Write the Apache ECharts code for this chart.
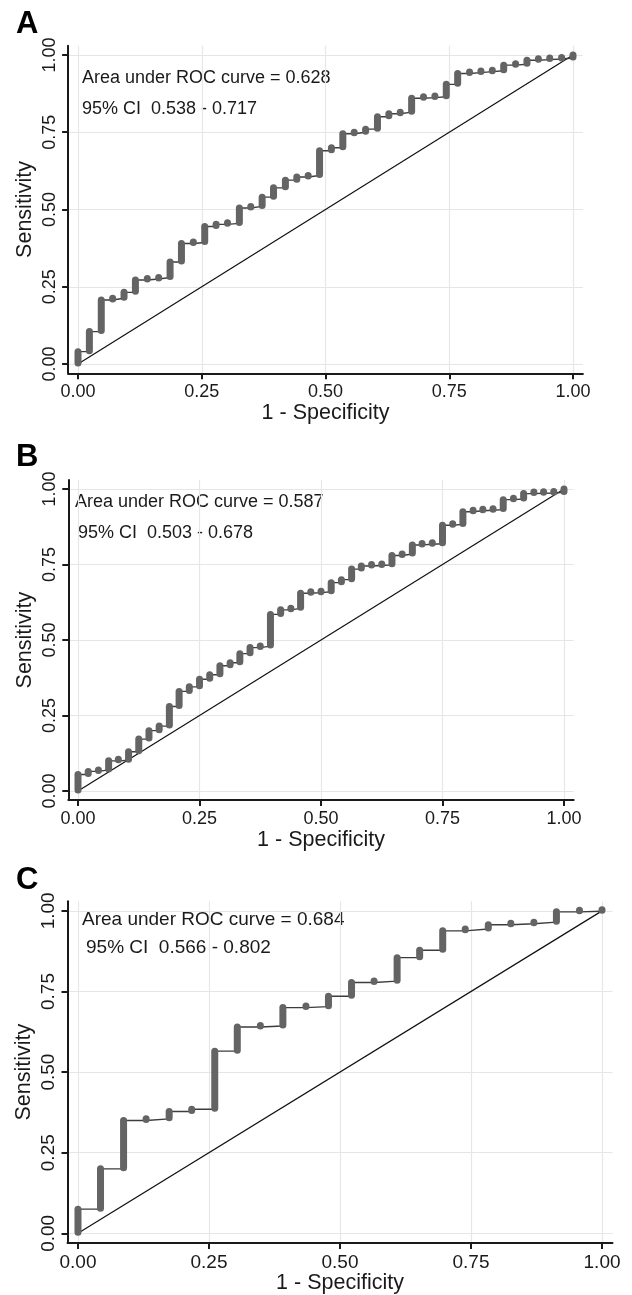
<!DOCTYPE html>
<html><head><meta charset="utf-8">
<script src="https://cdn.jsdelivr.net/npm/echarts@6/dist/echarts.min.js"></script>
<style>html,body{margin:0;padding:0;background:#fff}#c{width:632px;height:1295px}</style>
</head><body><div id="c"></div>
<script>
// ---------- data ----------
const tickValues = [0, 0.25, 0.5, 0.75, 1];
const tickLabels = ['0.00', '0.25', '0.50', '0.75', '1.00'];
const panelLetters = ['A', 'B', 'C'];
const aucLabels = ['Area under ROC curve = 0.628', 'Area under ROC curve = 0.587', 'Area under ROC curve = 0.684'];
const ciLabels = ['95% CI  0.538 - 0.717', '95% CI  0.503 - 0.678', '95% CI  0.566 - 0.802'];
const xTitle = '1 - Specificity';
const yTitle = 'Sensitivity';
const refX = [0, 1];
const refY = [0, 1];

// Panel A: 1 - specificity and sensitivity at each step
const fprA = [0, .023, .047, .070, .093, .116, .140, .163, .186, .209, .233, .256, .279, .302, .326, .349, .372, .395, .419, .442, .465, .488, .512, .535, .558, .581, .605, .628, .651, .674, .698, .721, .744, .767, .791, .814, .837, .860, .884, .907, .930, .953, .977, 1.0];
const tprA = [.040, .105, .207, .213, .232, .272, .275, .280, .330, .390, .393, .445, .452, .455, .505, .510, .540, .570, .595, .605, .610, .690, .700, .745, .750, .760, .800, .810, .815, .860, .862, .865, .905, .940, .943, .946, .949, .967, .970, .983, .985, .987, .990, 1.0];

// Panel B
const fprB = [0, .021, .042, .063, .083, .104, .125, .146, .167, .188, .208, .229, .250, .271, .292, .313, .333, .354, .375, .396, .417, .438, .458, .479, .500, .521, .542, .563, .583, .604, .625, .646, .667, .688, .708, .729, .750, .771, .792, .813, .833, .854, .875, .896, .917, .938, .958, .979, 1.0];
const tprB = [.055, .065, .070, .100, .102, .130, .172, .200, .215, .280, .330, .345, .370, .385, .415, .425, .455, .475, .480, .585, .600, .605, .655, .657, .660, .690, .700, .735, .745, .747, .749, .780, .785, .815, .817, .819, .880, .883, .925, .928, .930, .932, .965, .967, .985, .986, .987, .989, 1.0];

// Panel C
const fprC = [0, .043, .087, .130, .174, .217, .261, .304, .348, .391, .435, .478, .522, .565, .609, .652, .696, .739, .783, .826, .870, .913, .957, 1.0];
const tprC = [.075, .200, .350, .355, .378, .385, .565, .640, .643, .700, .703, .735, .778, .782, .855, .878, .938, .944, .957, .960, .965, .997, .999, 1.0];

// ---------- layout / style ----------
const panels = [
  { fpr: fprA, tpr: tprA, grid: { left: 68.1, top: 45.7, width: 514.8, height: 327.6 }, tickFont: 18, noteFont: 18,
    letterPos: [16, 24], notePos: [[82, 78], [82, 109]] },
  { fpr: fprB, tpr: tprB, grid: { left: 68.3, top: 480, width: 505.4, height: 320.1 }, tickFont: 18, noteFont: 18,
    letterPos: [16, 457], notePos: [[75, 502], [78, 533]] },
  { fpr: fprC, tpr: tprC, grid: { left: 67.5, top: 901.2, width: 545, height: 344.5 }, tickFont: 19, noteFont: 19,
    letterPos: [16, 880], notePos: [[82, 920], [86, 948]] }
];
const FONT = '"Liberation Sans", Arial, Helvetica, sans-serif';
const AXIS_COLOR = '#1a1a1a';
const GRID_COLOR = '#e6e6e6';
const COL_COLOR = '#646464';
const LINE_COLOR = '#3c3c3c';

const option = {
  animation: false,
  backgroundColor: '#ffffff',
  textStyle: { fontFamily: FONT },
  grid: [], xAxis: [], yAxis: [], series: [], graphic: []
};

function axisCommon(fontSize) {
  return {
    type: 'value', min: -0.02, max: 1.02,
    axisLine: { show: true, onZero: false, lineStyle: { color: AXIS_COLOR, width: 2 } },
    axisTick: { show: true, customValues: tickValues, length: 6, inside: false, lineStyle: { color: AXIS_COLOR, width: 2 } },
    axisLabel: { customValues: tickValues, color: '#1a1a1a', fontSize: fontSize, fontFamily: FONT, margin: 10,
      formatter: v => tickLabels[tickValues.indexOf(+v.toFixed(2))] ?? '' },
    splitLine: { show: true, lineStyle: { color: GRID_COLOR, width: 1.2 } },
    nameLocation: 'middle',
    nameMoveOverlap: false,
    nameTextStyle: { fontSize: 21.5, color: '#1a1a1a', fontFamily: FONT }
  };
}

panels.forEach((p, i) => {
  option.grid.push(Object.assign({ containLabel: false }, p.grid));
  const xa = axisCommon(p.tickFont);
  xa.gridIndex = i; xa.name = xTitle; xa.nameGap = 29;
  const ya = axisCommon(p.tickFont);
  ya.gridIndex = i; ya.min = -0.03; ya.max = 1.03; ya.name = yTitle; ya.nameGap = 32;
  ya.axisLabel.rotate = 90; ya.axisLabel.margin = 9;
  option.xAxis.push(xa); option.yAxis.push(ya);

  // reference diagonal
  option.series.push({
    type: 'line', xAxisIndex: i, yAxisIndex: i, showSymbol: false, silent: true, z: 2,
    data: refX.map((x, k) => [x, refY[k]]),
    lineStyle: { color: '#111', width: 1.2 }
  });
  // thin step connection
  option.series.push({
    type: 'line', xAxisIndex: i, yAxisIndex: i, showSymbol: false, silent: true, step: 'end', z: 3,
    data: p.fpr.map((x, k) => [x, p.tpr[k]]),
    lineStyle: { color: LINE_COLOR, width: 1.4 }
  });
  // thick marker columns (overlapping markers)
  option.series.push({
    type: 'custom', xAxisIndex: i, yAxisIndex: i, silent: true, z: 4,
    encode: { x: 0, y: [1, 2] },
    data: p.fpr.map((x, k) => [x, k === 0 ? 0 : p.tpr[k - 1], p.tpr[k]]),
    renderItem: (params, api) => {
      const a = api.coord([api.value(0), api.value(1)]);
      const b = api.coord([api.value(0), api.value(2)]);
      const y1 = Math.max(a[1], b[1]), y2 = Math.min(a[1], b[1]);
      return {
        type: 'line',
        shape: { x1: a[0], y1: y1 - 1, x2: b[0], y2: Math.min(y2, y1 - 1.5) },
        style: { stroke: COL_COLOR, lineWidth: 7, lineCap: 'round' }
      };
    }
  });

  option.graphic.push({
    type: 'text', x: p.letterPos[0], y: p.letterPos[1], silent: true,
    style: { text: panelLetters[i], font: 'bold 31px ' + FONT, fill: '#000', verticalAlign: 'middle' }
  });
  option.graphic.push({
    type: 'text', x: p.notePos[0][0], y: p.notePos[0][1], silent: true,
    style: { text: aucLabels[i], font: p.noteFont + 'px ' + FONT, fill: '#1a1a1a', verticalAlign: 'middle' }
  });
  option.graphic.push({
    type: 'text', x: p.notePos[1][0], y: p.notePos[1][1], silent: true,
    style: { text: ciLabels[i], font: p.noteFont + 'px ' + FONT, fill: '#1a1a1a', verticalAlign: 'middle' }
  });
});

const chart = echarts.init(document.getElementById('c'), null, { renderer: 'canvas' });
chart.setOption(option);
</script>
</body></html>
